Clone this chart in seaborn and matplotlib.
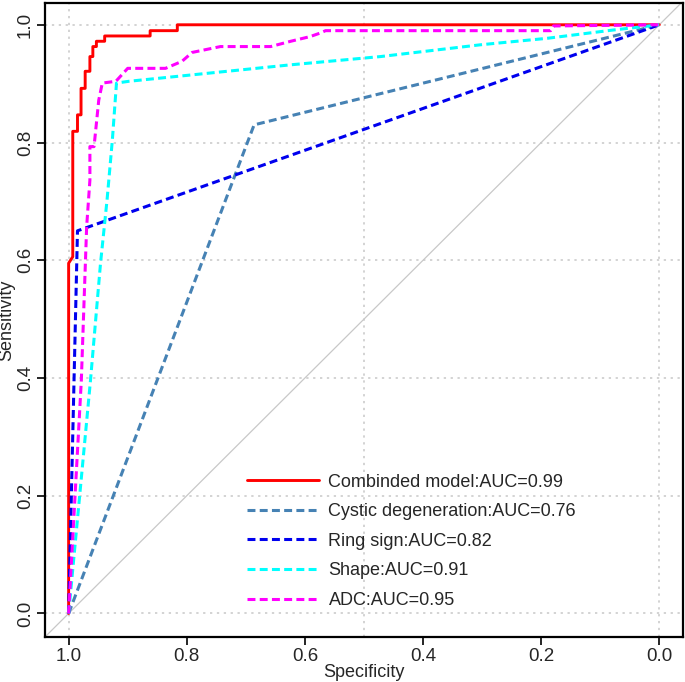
import matplotlib
matplotlib.use("Agg")
import matplotlib.pyplot as plt
import pandas as pd
import seaborn as sns

# ROC curve vertices (specificity, sensitivity)
combined_spec = [1.0, 1.0, 0.993, 0.993, 0.985, 0.985, 0.979, 0.979, 0.972, 0.972,
                 0.964, 0.964, 0.959, 0.959, 0.953, 0.953, 0.939, 0.939, 0.862,
                 0.862, 0.816, 0.816, 0.0]
combined_sens = [0.0, 0.595, 0.606, 0.819, 0.819, 0.847, 0.847, 0.892, 0.892, 0.921,
                 0.921, 0.946, 0.946, 0.963, 0.963, 0.972, 0.972, 0.981, 0.981,
                 0.99, 0.99, 1.0, 1.0]

cystic_spec = [1.0, 0.686, 0.0]
cystic_sens = [0.0, 0.83, 1.0]

ring_spec = [1.0, 0.985, 0.0]
ring_sens = [0.0, 0.65, 1.0]

shape_spec = [1.0, 0.963, 0.946, 0.935, 0.926, 0.919, 0.898, 0.624, 0.472, 0.303,
              0.190, 0.079, 0.0]
shape_sens = [0.0, 0.396, 0.595, 0.702, 0.804, 0.901, 0.904, 0.932, 0.946, 0.966,
              0.977, 0.991, 1.0]

adc_spec = [1.0, 0.9785, 0.975, 0.9695, 0.964, 0.964, 0.957, 0.949, 0.943, 0.920,
            0.900, 0.836, 0.808, 0.791, 0.743, 0.658, 0.624, 0.591, 0.574, 0.565,
            0.184, 0.179, 0.0]
adc_sens = [0.0, 0.396, 0.498, 0.657, 0.736, 0.793, 0.793, 0.872, 0.901, 0.904,
            0.926, 0.926, 0.938, 0.953, 0.963, 0.963, 0.972, 0.980, 0.986, 0.990,
            0.990, 0.998, 1.0]

dash = (0, (2.6, 1.4))
curves = [
    ("Combinded model:AUC=0.99", combined_spec, combined_sens, "#ff0000", "-"),
    ("Cystic degeneration:AUC=0.76", cystic_spec, cystic_sens, "#4682b4", dash),
    ("Ring sign:AUC=0.82", ring_spec, ring_sens, "#0000ee", dash),
    ("Shape:AUC=0.91", shape_spec, shape_sens, "#00ffff", dash),
    ("ADC:AUC=0.95", adc_spec, adc_sens, "#ff00ff", dash),
]

sns.set_style("white")
plt.rcParams["font.family"] = ["Liberation Sans", "DejaVu Sans"]

fig = plt.figure(figsize=(6.85, 6.82), dpi=100)
ax = fig.add_axes([0.0657, 0.066, 0.9313, 0.9296])

# reference diagonal
ax.axline((1, 0), (0, 1), color="#c8c8c8", lw=0.9, zorder=1)

for xv in [1.0, 0.5, 0.0]:
    ax.axvline(xv, color="#c8c8c8", lw=1.1, ls=(0, (1.5, 3)), zorder=0)
for yv in [0.0, 0.2, 0.4, 0.6, 0.8, 1.0]:
    ax.axhline(yv, color="#c8c8c8", lw=1.1, ls=(0, (1.5, 3)), zorder=0)

for label, spec, sens, color, ls in curves:
    df = pd.DataFrame({"spec": spec, "sens": sens})
    lw = 2.1 if ls == "-" else 2.2
    sns.lineplot(data=df, x="spec", y="sens", sort=False, estimator=None,
                 color=color, lw=lw, ls=ls, label=label, ax=ax, zorder=3)

ax.set_xlim(1.04, -0.04)
ax.set_ylim(-0.04, 1.037)
ax.set_xticks([1.0, 0.8, 0.6, 0.4, 0.2, 0.0])
ax.set_yticks([0.0, 0.2, 0.4, 0.6, 0.8, 1.0])
ax.set_xticklabels(["1.0", "0.8", "0.6", "0.4", "0.2", "0.0"], fontsize=13.5)
ax.set_yticklabels(["0.0", "0.2", "0.4", "0.6", "0.8", "1.0"], fontsize=13.5,
                   rotation=90, va="center")
ax.tick_params(axis="both", direction="out", length=6, width=1.2, color="black",
               bottom=True, left=True, pad=2)
ax.set_xlabel("Specificity", fontsize=13, labelpad=-1)
ax.set_ylabel("Sensitivity", fontsize=13, labelpad=1)
for sp in ax.spines.values():
    sp.set_color("black")
    sp.set_linewidth(1.6)

ax.legend(loc="lower left", bbox_to_anchor=(0.317, 0.044), frameon=False,
          fontsize=13, handlelength=4.0, handletextpad=0.5, labelspacing=0.7,
          borderpad=0, borderaxespad=0)

fig.savefig("out.png", dpi=100)
